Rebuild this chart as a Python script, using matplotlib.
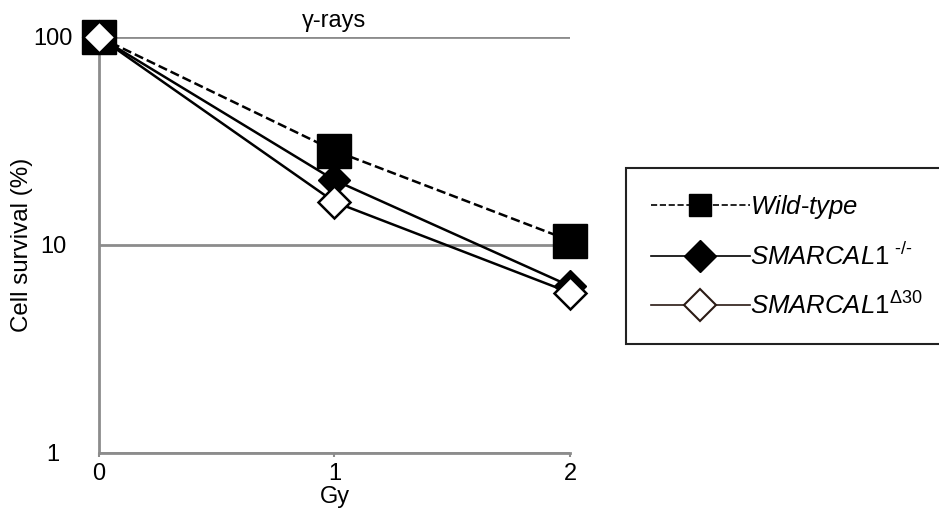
import matplotlib
matplotlib.use("Agg")
import matplotlib.pyplot as plt
from matplotlib.lines import Line2D

plt.rcParams['font.family'] = ['Liberation Sans', 'DejaVu Sans']
plt.rcParams['mathtext.fontset'] = 'custom'
plt.rcParams['mathtext.rm'] = 'Liberation Sans'
plt.rcParams['mathtext.it'] = 'Liberation Sans:italic'

# data
doses = [0, 1, 2]
wild_type = [100, 28.4, 10.5]
smarcal_ko = [100, 20.5, 6.35]
smarcal_d30 = [100, 16.1, 5.9]

labels = [r'$\mathit{Wild}$-$\mathit{type}$',
          r'$\mathit{SMARCAL1}^{\ \mathit{‐/‐}}$',
          r'$\mathit{SMARCAL1}^{\mathit{\Delta 30}}$']
yticks = [1, 10, 100]
grey = '#8c8c8c'

fig = plt.figure(figsize=(9.39, 5.08), dpi=100)
ax = fig.add_axes([0.1054, 0.1083, 0.5016, 0.8189])

ax.set_yscale('log')
ax.set_ylim(1, 100)
ax.set_xlim(0, 2)
ax.set_yticks(yticks)
ax.set_yticklabels([str(t) for t in yticks], ha='center')
ax.minorticks_off()
ax.set_xticks(doses)
ax.grid(axis='y', color=grey, linewidth=2)
ax.set_axisbelow(True)

for s in ['top', 'right']:
    ax.spines[s].set_visible(False)
for s in ['left', 'bottom']:
    ax.spines[s].set_color(grey)
    ax.spines[s].set_linewidth(2)
ax.tick_params(axis='x', colors=grey, labelcolor='black', length=3, width=1.5, labelsize=17, pad=4)
ax.tick_params(axis='y', length=0, labelsize=17, pad=33)

ax.plot(doses, wild_type, '--', color='black', lw=1.8, marker='s', ms=24,
        mfc='black', mec='black', clip_on=False, zorder=3)
ax.plot(doses, smarcal_ko, '-', color='black', lw=1.8, marker='D', ms=16.5,
        mfc='black', mec='black', clip_on=False, zorder=4)
ax.plot(doses, smarcal_d30, '-', color='black', lw=1.8, marker='D', ms=16.5,
        mfc='white', mec='black', mew=1.8, clip_on=False, zorder=5)

ax.set_xlabel('Gy', fontsize=17, labelpad=1)
ax.set_ylabel('Cell survival (%)', fontsize=17.4, labelpad=0)
ax.set_title('γ-rays', fontsize=17, pad=7)

handles = [
    Line2D([], [], ls='--', color='black', lw=1.2, marker='s', ms=16, mfc='black', mec='black'),
    Line2D([], [], ls='-', color='black', lw=1.2, marker='D', ms=16, mfc='black', mec='black'),
    Line2D([], [], ls='-', color='#2a1a14', lw=1.2, marker='D', ms=16, mfc='white', mec='#2a1a14', mew=1.5),
]
leg = fig.legend(handles, labels, loc='upper left',
                 bbox_to_anchor=(626 / 939, 1 - 341 / 508, 0.36, 173 / 508),
                 mode='expand', bbox_transform=fig.transFigure,
                 borderaxespad=0, fontsize=18.5, handlelength=3.85, handletextpad=0.0,
                 labelspacing=0.86, borderpad=0.97,
                 fancybox=False, framealpha=1)
leg.get_frame().set_edgecolor('#222222')
leg.get_frame().set_linewidth(1.5)

fig.savefig('out.png', dpi=100)
